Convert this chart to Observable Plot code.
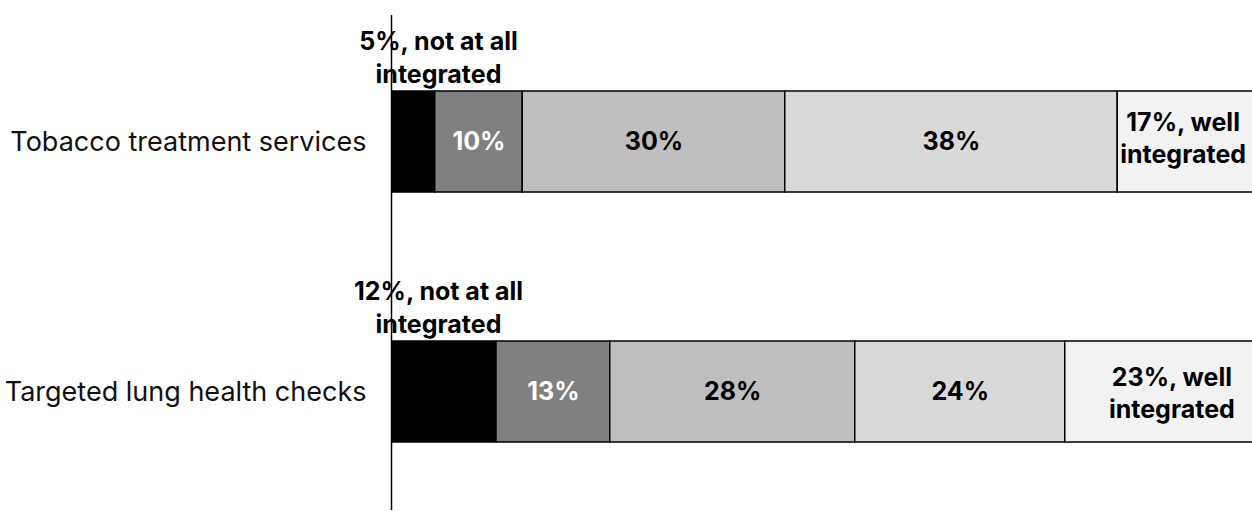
<!DOCTYPE html>
<html>
<head>
<meta charset="utf-8">
<script src="https://cdn.jsdelivr.net/npm/d3@7"></script>
<script src="https://cdn.jsdelivr.net/npm/@observablehq/plot@0.6"></script>
<style>
  html, body { margin: 0; padding: 0; background: #fff; overflow: hidden; }
  #chart svg { display: block; font-family: Inter, "Noto Sans", sans-serif; }
</style>
</head>
<body>
<div id="chart"></div>
<script>
// Categories (rows)
const categories = ["Tobacco treatment services", "Targeted lung health checks"];
// Integration levels, from "not at all" to "well integrated"
const levels = ["Not at all integrated", "Slightly integrated", "Somewhat integrated", "Mostly integrated", "Well integrated"];
// Percentages per row
const tobaccoValues = [5, 10, 30, 38, 17];
const lungCheckValues = [12, 13, 28, 24, 23];
// Label texts
const tobaccoLabels = ["5%, not at all\nintegrated", "10%", "30%", "38%", "17%, well\nintegrated"];
const lungCheckLabels = ["12%, not at all\nintegrated", "13%", "28%", "24%", "23%, well\nintegrated"];

const levelColors = ["#000000", "#808080", "#bfbfbf", "#d9d9d9", "#f2f2f2"];
const labelColors = ["#000000", "#ffffff", "#000000", "#000000", "#000000"];
const endLabelShift = [[-9, -5], [6, 0]];

const rows = [];
[[categories[0], tobaccoValues, tobaccoLabels], [categories[1], lungCheckValues, lungCheckLabels]].forEach(([cat, vals, labs], r) => {
  vals.forEach((v, i) => rows.push({category: cat, level: levels[i], li: i, row: r, value: v, label: labs[i]}));
});

const chart = Plot.plot({
  width: 1252,
  height: 511,
  marginLeft: 391,
  marginRight: 0,
  marginTop: 15,
  marginBottom: 1,
  style: {fontFamily: "Inter, 'Noto Sans', sans-serif", background: "#fff"},
  x: {domain: [0, 98.4], axis: null},
  y: {domain: categories, paddingInner: 0.596, paddingOuter: 0.288, align: 0.528, axis: null},
  color: {domain: levels, range: levelColors},
  marks: [
    Plot.barX(rows, Plot.stackX({
      x: "value", y: "category", fill: "level", order: null,
      stroke: "#000", strokeWidth: 1.5, clip: "frame"
    })),
    // middle value labels
    Plot.text(rows, Plot.stackX({
      x: "value", y: "category", order: null,
      text: d => (d.li > 0 && d.li < 4) ? d.label : "",
      fill: d => labelColors[d.li],
      fontSize: 25, fontWeight: 700
    })),
    // "well integrated" labels at end of bars
    ...[0, 1].map(r => Plot.text(rows, Plot.stackX({
      x: "value", y: "category", order: null,
      text: d => (d.li === 4 && d.row === r) ? d.label : "",
      fill: "#000", fontSize: 25, fontWeight: 700, lineHeight: 1.28,
      dx: endLabelShift[r][0], dy: endLabelShift[r][1]
    }))),
    // "not at all integrated" labels above bars
    Plot.text(rows.filter(d => d.li === 0), {
      x: 0, y: "category", text: "label", fill: "#000",
      fontSize: 25, fontWeight: 700, lineHeight: 1.3,
      dx: 47, dy: -86
    }),
    // category labels
    Plot.text(categories, {
      x: 0, y: d => d, text: d => d, textAnchor: "end", dx: -25,
      fontSize: 27, fill: "#111"
    }),
    Plot.ruleX([0], {stroke: "#000", strokeWidth: 1.5})
  ]
});

document.getElementById("chart").append(chart);
</script>
</body>
</html>
